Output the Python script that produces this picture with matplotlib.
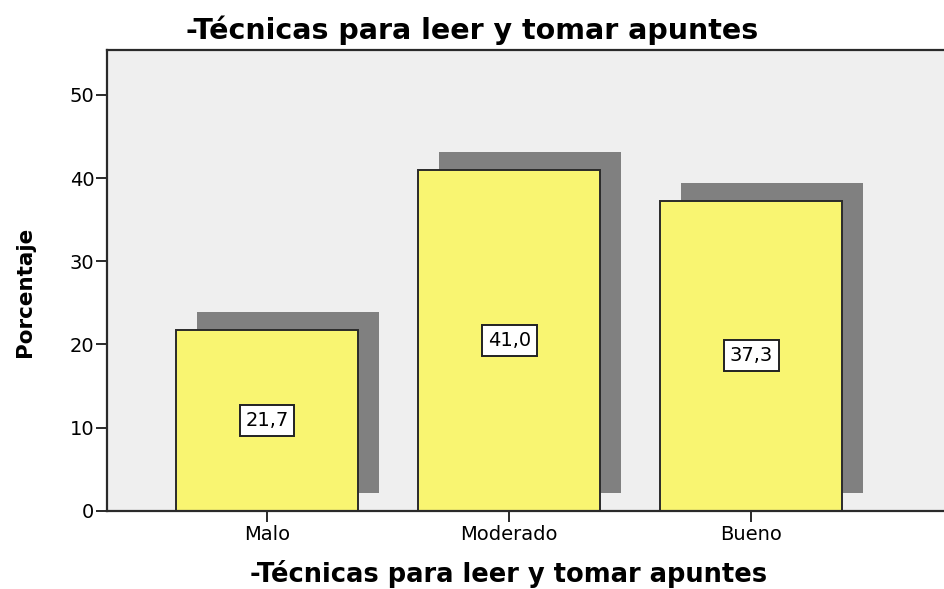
import matplotlib
matplotlib.use('Agg')
import matplotlib.pyplot as plt
import matplotlib.transforms as mtransforms

categories = ['Malo', 'Moderado', 'Bueno']
percent = [21.7, 41.0, 37.3]
value_labels = ['21,7', '41,0', '37,3']
yticks = [0, 10, 20, 30, 40, 50]
title = '-Técnicas para leer y tomar apuntes'

bar_color = '#f9f571'
shadow_color = '#808080'
bg_color = '#efefef'
edge = '#2a2a2a'

fig = plt.figure(figsize=(9.45, 5.89), dpi=100)
ax = fig.add_axes([0.1129, 0.1329, 0.8871, 0.7822])
ax.set_facecolor(bg_color)

x = list(range(len(categories)))
width = 0.75

# drop shadow: same bars shifted right and up by a fixed number of pixels
shadow_tr = mtransforms.offset_copy(ax.transData, fig=fig, x=21, y=18, units='dots')
ax.bar(x, percent, width=width, color=shadow_color, transform=shadow_tr, zorder=1)
ax.bar(x, percent, width=width, color=bar_color, edgecolor=edge, linewidth=1.4, zorder=2)

for xi, v, lab in zip(x, percent, value_labels):
    ax.text(xi, v / 2, lab, ha='center', va='center', fontsize=14, zorder=3,
            bbox=dict(boxstyle='square,pad=0.3', facecolor='white',
                      edgecolor='#222222', linewidth=1.4))

ax.set_xlim(-0.662, 2.80)
ax.set_ylim(0, 55.4)
ax.set_xticks(x)
ax.set_xticklabels(categories, fontsize=14)
ax.set_yticks(yticks)
ax.set_yticklabels([str(t) for t in yticks], fontsize=14)
ax.tick_params(axis='y', direction='out', length=8, width=1.4, color=edge, pad=1)
ax.tick_params(axis='x', direction='out', length=8, width=1.4, color=edge, pad=2)

for side in ('left', 'top', 'bottom'):
    ax.spines[side].set_color(edge)
    ax.spines[side].set_linewidth(1.6)
ax.spines['right'].set_visible(False)

fig.text(0.5, 1 - 30 / 589, title, ha='center', va='center',
         fontsize=20.5, fontweight='bold')
fig.text(509 / 945, 1 - 574 / 589, title, ha='center', va='center',
         fontsize=18.5, fontweight='bold')
fig.text(25 / 945, 1 - 292 / 589, 'Porcentaje', ha='center', va='center',
         rotation=90, fontsize=15.5, fontweight='bold')

fig.savefig('out.png', dpi=100)
